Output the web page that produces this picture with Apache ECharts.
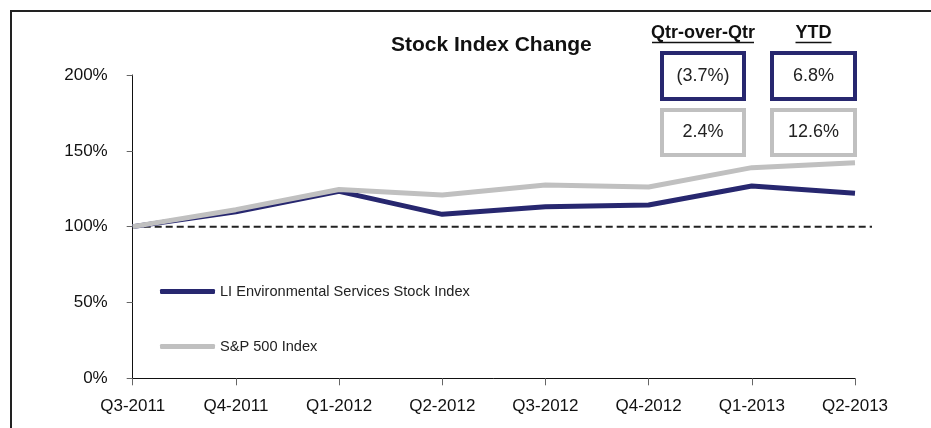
<!DOCTYPE html>
<html>
<head>
<meta charset="utf-8">
<script src="https://cdn.jsdelivr.net/npm/echarts@6/dist/echarts.min.js"></script>
<style>html,body{margin:0;padding:0;background:#fff;}#c{width:931px;height:428px;}</style>
</head>
<body>
<div id="c"></div>
<script>
const categories = ['Q3-2011','Q4-2011','Q1-2012','Q2-2012','Q3-2012','Q4-2012','Q1-2013','Q2-2013'];
const liIndex = [100, 109.8, 123.3, 108.1, 113.1, 114.3, 126.8, 122.1];
const spIndex = [100, 111.2, 124.5, 120.8, 127.4, 126.2, 138.9, 142.2];
const seriesNames = ['LI Environmental Services Stock Index', 'S&P 500 Index'];
const baseline = [100, 100];
const tableHeaders = ['Qtr-over-Qtr', 'YTD'];
const qoqValues = ['(3.7%)', '2.4%'];
const ytdValues = ['6.8%', '12.6%'];
const yTicks = [0, 50, 100, 150, 200];

const NAVY = '#27276F';
const GREY = '#C0C0C0';
const FONT = "'Liberation Sans', Arial, sans-serif";

const chart = echarts.init(document.getElementById('c'), null, {renderer: 'canvas'});

const cols = [
  {cx: 703, x: 660, w: 86, header: tableHeaders[0], vals: qoqValues},
  {cx: 813.5, x: 770, w: 87, header: tableHeaders[1], vals: ytdValues}
];
const rows = [{y: 51, h: 50, color: NAVY}, {y: 108, h: 49, color: GREY}];
const graphics = [
  {type: 'polyline', shape: {points: [[11, 428], [11, 11], [931, 11]]}, style: {stroke: '#222', lineWidth: 2, fill: null}, silent: true}
];
cols.forEach(c => {
  graphics.push({type: 'text', x: c.cx, y: 33, style: {text: c.header, font: 'bold 18px ' + FONT, fill: '#111', align: 'center', verticalAlign: 'middle'}});
  const hw = c.header === 'YTD' ? 18 : 51;
  graphics.push({type: 'line', shape: {x1: c.cx - hw, y1: 42.5, x2: c.cx + hw, y2: 42.5}, style: {stroke: '#111', lineWidth: 1.5}});
  rows.forEach((r, i) => {
    graphics.push({type: 'rect', shape: {x: c.x + 2, y: r.y + 2, width: c.w - 4, height: r.h - 4}, style: {stroke: r.color, lineWidth: 4, fill: '#fff'}});
    graphics.push({type: 'text', x: c.cx, y: r.y + r.h / 2, style: {text: c.vals[i], font: '18px ' + FONT, fill: '#222', align: 'center', verticalAlign: 'middle'}});
  });
});

const option = {
  animation: false,
  backgroundColor: '#fff',
  textStyle: {fontFamily: FONT},
  title: {
    text: 'Stock Index Change', left: 386, top: 30,
    textStyle: {fontFamily: FONT, fontSize: 21, fontWeight: 'bold', color: '#111'}
  },
  legend: {
    orient: 'vertical', left: 155, top: 279,
    icon: 'roundRect', itemWidth: 55, itemHeight: 5, itemGap: 40, itemTextGap: 5,
    textStyle: {fontFamily: FONT, fontSize: 14.6, color: '#222'},
    data: seriesNames
  },
  grid: [
    {left: 132.7, right: 76, top: 75, bottom: 49.7, containLabel: false},
    {left: 132.7, right: 59, top: 75, bottom: 49.7, containLabel: false}
  ],
  xAxis: [
    {
      type: 'category', data: categories, boundaryGap: false, gridIndex: 0,
      axisLine: {lineStyle: {color: '#111', width: 1}},
      axisTick: {show: true, length: 7, inside: false, alignWithLabel: true, lineStyle: {color: '#666'}},
      axisLabel: {fontFamily: FONT, fontSize: 17, color: '#111', margin: 20},
      splitLine: {show: false}
    },
    {type: 'value', gridIndex: 1, min: 0, max: 1, show: false}
  ],
  yAxis: [
    {
      type: 'value', min: 0, max: 200, interval: 50, gridIndex: 0,
      axisLine: {show: true, lineStyle: {color: '#111', width: 1}},
      axisTick: {show: true, length: 6, lineStyle: {color: '#666'}},
      axisLabel: {fontFamily: FONT, fontSize: 17, color: '#111', margin: 25, formatter: v => yTicks.includes(v) ? v + '%' : ''},
      splitLine: {show: false}
    },
    {type: 'value', gridIndex: 1, min: 0, max: 200, show: false}
  ],
  series: [
    {
      name: 'baseline', type: 'line', xAxisIndex: 1, yAxisIndex: 1,
      data: [[0, baseline[0]], [1, baseline[1]]], symbol: 'none', silent: true, z: 1,
      lineStyle: {color: '#222', width: 2, type: [7, 4]}
    },
    {
      name: seriesNames[0], type: 'line', data: liIndex, symbol: 'none', z: 3,
      itemStyle: {color: NAVY}, lineStyle: {color: NAVY, width: 5}
    },
    {
      name: seriesNames[1], type: 'line', data: spIndex, symbol: 'none', z: 4,
      itemStyle: {color: GREY}, lineStyle: {color: GREY, width: 5}
    }
  ],
  graphic: graphics
};
chart.setOption(option);
</script>
</body>
</html>
